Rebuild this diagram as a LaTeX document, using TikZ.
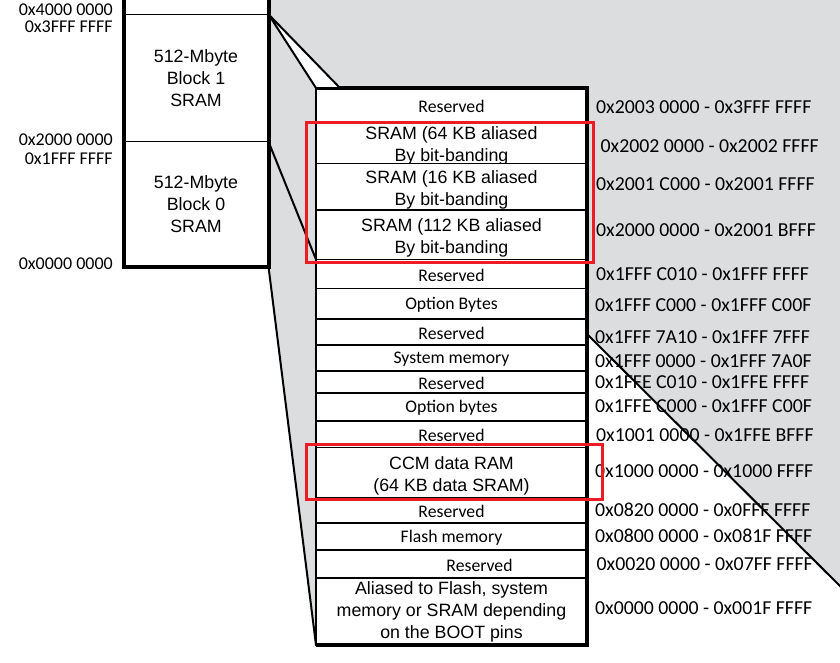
\documentclass[tikz,border=0pt]{standalone}
\usepackage{fontspec}
\setmainfont{Liberation Sans}
\newfontfamily\calibri{Carlito}
\usetikzlibrary{calc, positioning, backgrounds}
\definecolor{zoomgrey}{RGB}{220,221,223}
\definecolor{markred}{RGB}{237,28,36}
\newcommand{\lowtop}{\rule{0pt}{15.8pt}}

\begin{document}
\begin{tikzpicture}[x=1pt, y=-1pt,
  blk/.style={draw, line width=1.5pt, fill=white, minimum width=145pt, inner sep=0pt, outer sep=0pt, align=center, font=\fontsize{17.8}{22}\selectfont},
  row/.style={draw, line width=1.5pt, fill=white, minimum width=271pt, inner sep=0pt, outer sep=0pt, align=center, font=\fontsize{17.8}{22}\selectfont},
  rowc/.style={row, font=\calibri\fontsize{17.7}{22}\selectfont, execute at begin node=\rule{0pt}{14.5pt}},
  addr/.style={anchor=west, inner sep=0pt, font=\calibri\fontsize{19.8}{22}\selectfont},
  laddr/.style={anchor=east, inner sep=0pt, font=\calibri\fontsize{18}{20}\selectfont},
  zoomline/.style={line width=2pt},
  redmark/.style={draw=markred, line width=3pt}]

  \useasboundingbox (0,0) rectangle (840,662);

  % Left column: the two SRAM blocks
  \node[blk, minimum height=127.4pt] (blk1) at (196,78) {512-Mbyte\\Block 1\\SRAM};
  \node[blk, minimum height=125pt, below=0pt of blk1] (blk0) {512-Mbyte\\Block 0\\SRAM};
  \node[blk, minimum height=30pt, above=0pt of blk1] (blk2) {};
  \draw[line width=4pt] (blk2.north west) -- (blk0.south west) -- (blk0.south east) -- (blk2.north east);

  % Left addresses
  \node[laddr] (la1) at (113,9.3) {0x4000 0000};
  \node[laddr] (la2) at (113,26.7) {0x3FFF FFFF};
  \node[laddr] (la3) at (113,140) {0x2000 0000};
  \node[laddr] (la4) at (113,158.3) {0x1FFF FFFF};
  \node[laddr] (la5) at (113,263.3) {0x0000 0000};

  % Right column: the zoomed memory map
  \node[rowc, minimum height=34pt] (res1) at (451.5,105) {Reserved};
  \node[row, minimum height=41.5pt, below=0pt of res1] (sram64) {\lowtop SRAM (64 KB aliased\\\smash{By bit-banding}};
  \node[row, minimum height=46.5pt, below=0pt of sram64] (sram16) {\lowtop SRAM (16 KB aliased\\\smash{By bit-banding}};
  \node[row, minimum height=49.5pt, below=0pt of sram16] (sram112) {\lowtop SRAM (112 KB aliased\\\smash{By bit-banding}};
  \node[rowc, minimum height=28.8pt, below=0pt of sram112] (res2) {Reserved};
  \node[rowc, minimum height=30.7pt, below=0pt of res2] (optb1) {Option Bytes};
  \node[rowc, minimum height=26pt, below=0pt of optb1] (res3) {Reserved};
  \node[rowc, minimum height=26pt, below=0pt of res3] (sysmem) {System memory};
  \node[rowc, minimum height=22pt, below=0pt of sysmem] (res4) {Reserved};
  \node[rowc, minimum height=28pt, below=0pt of res4] (optb2) {Option bytes};
  \node[rowc, minimum height=26.5pt, below=0pt of optb2] (res5) {Reserved};
  \node[row, minimum height=50.5pt, below=0pt of res5] (ccm) {\lowtop CCM data RAM\\\smash{(64 KB data SRAM)}};
  \node[rowc, minimum height=25pt, below=0pt of ccm] (res6) {Reserved};
  \node[rowc, minimum height=27pt, below=0pt of res6] (flash) {Flash memory};
  \node[rowc, minimum height=28pt, below=0pt of flash] (res7) {\hspace*{56pt}Reserved};
  \node[row, minimum height=67pt, below=0pt of res7] (alias) {Aliased to Flash, system\\memory or SRAM depending\\on the BOOT pins};
  \draw[line width=4.5pt] (res1.north west) -- (res1.north east) -- (alias.south east) -- (alias.south west);
  \draw[line width=2pt] (res1.north west) -- (alias.south west);

  % Right addresses
  \node[addr] (a1) at (596,106.7) {0x2003 0000 - 0x3FFF FFFF};
  \node[addr] (a2) at (600.5,145.7) {0x2002 0000 - 0x2002 FFFF};
  \node[addr] (a3) at (596,184.3) {0x2001 C000 - 0x2001 FFFF};
  \node[addr] (a4) at (596,230) {0x2000 0000 - 0x2001 BFFF};
  \node[addr] (a5) at (596,274) {0x1FFF C010 - 0x1FFF FFFF};
  \node[addr] (a6) at (595,305) {0x1FFF C000 - 0x1FFF C00F};
  \node[addr] (a7) at (595,336.7) {0x1FFF 7A10 - 0x1FFF 7FFF};
  \node[addr] (a8) at (595,360.7) {0x1FFF 0000 - 0x1FFF 7A0F};
  \node[addr] (a9) at (595,381.7) {0x1FFE C010 - 0x1FFE FFFF};
  \node[addr] (a10) at (595,406) {0x1FFE C000 - 0x1FFF C00F};
  \node[addr] (a11) at (596,435) {0x1001 0000 - 0x1FFE BFFF};
  \node[addr] (a12) at (595,470.7) {0x1000 0000 - 0x1000 FFFF};
  \node[addr] (a13) at (595,509.3) {0x0820 0000 - 0x0FFF FFFF};
  \node[addr] (a14) at (595,536) {0x0800 0000 - 0x081F FFFF};
  \node[addr] (a15) at (596.5,564.3) {0x0020 0000 - 0x07FF FFFF};
  \node[addr] (a16) at (595,608.3) {0x0000 0000 - 0x001F FFFF};

  % Zoom lines
  \coordinate (cut) at ($(res3.north east)+(0,15)$);
  \coordinate (diagend) at (850,596);
  \filldraw[zoomline, fill=white, line join=round] (blk1.north east) -- (res1.north west) -- ($(res1.north west)+(24,0)$) -- cycle;
  \draw[zoomline] (blk1.south east) -- (sram112.south west);
  \draw[zoomline] (blk0.south east) -- (alias.south west);
  \draw[zoomline] (cut) -- (diagend);

  % Grey background
  \begin{scope}[on background layer]
    \fill[zoomgrey] (blk2.north east) -- (850,-16) -- (diagend) -- (cut) -- (alias.south west) -- (blk0.south east) -- cycle;
  \end{scope}

  % Highlights
  \draw[redmark] ($(sram64.north west)+(-10,0)$) rectangle ($(sram112.south east)+(6,2.5)$);
  \draw[redmark] ($(ccm.north west)+(-10,-3.5)$) rectangle ($(ccm.south east)+(15,1)$);
\end{tikzpicture}
\end{document}
